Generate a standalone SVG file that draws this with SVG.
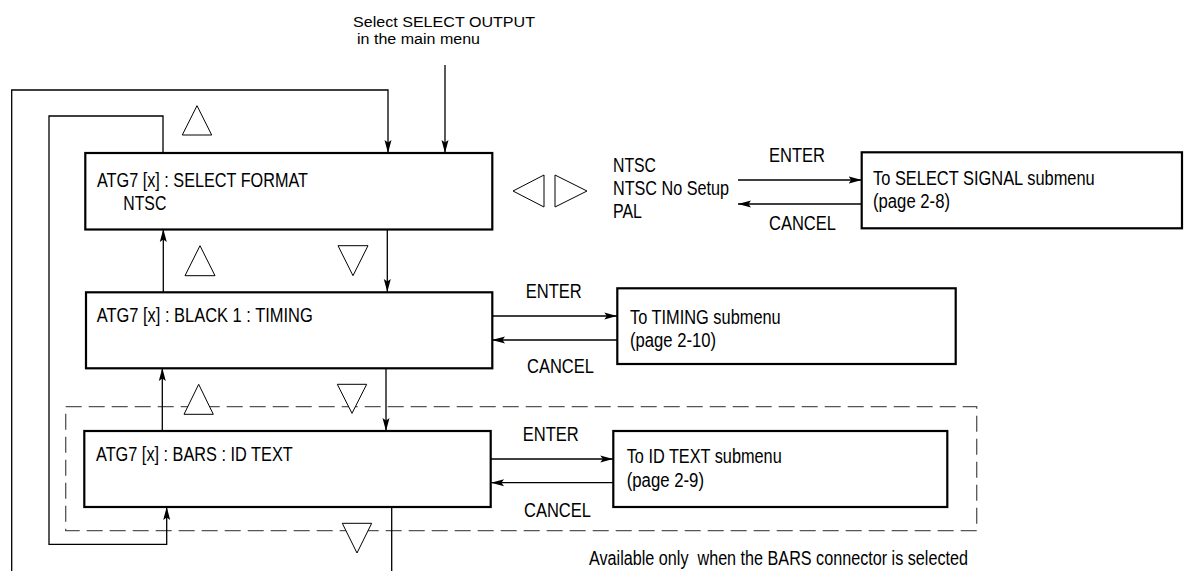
<svg xmlns="http://www.w3.org/2000/svg" width="1185" height="571" viewBox="0 0 1185 571">
<style>
text{font-family:"Liberation Sans",Arial,sans-serif;font-size:19.5px;fill:#000}
.hd{font-size:15.5px}
.box{fill:#fff;stroke:#000;stroke-width:2.2}
.c{fill:none;stroke:#000;stroke-width:1.3}
.tri{fill:#fff;stroke:#000;stroke-width:1}
.dash{fill:none;stroke:#555;stroke-width:1.3;stroke-dasharray:16 7}
</style>
<defs>
<marker id="ah" viewBox="0 0 13 8" refX="13" refY="4" markerWidth="13" markerHeight="8" orient="auto" markerUnits="userSpaceOnUse">
<path d="M0,0.5 L13,4 L0,7.5 L2.5,4 z" fill="#000"/>
</marker>
</defs>
<rect x="0" y="0" width="1185" height="571" fill="#fff"/>

<g id="bars-region">
<rect class="dash" x="65.7" y="406.7" width="911" height="124"/>
<text x="589" y="565" xml:space="preserve" textLength="379" lengthAdjust="spacingAndGlyphs">Available only  when the BARS connector is selected</text>
</g>

<g id="connectors">
<line class="c" x1="445" y1="65" x2="445" y2="153" marker-end="url(#ah)"/>
<polyline class="c" points="11.7,571 11.7,90 388,90 388,153" marker-end="url(#ah)"/>
<polyline class="c" points="163,153 163,116 49,116 49,544.3 166.7,544.3 166.7,507" marker-end="url(#ah)"/>
<line class="c" x1="387.3" y1="229" x2="387.3" y2="292" marker-end="url(#ah)"/>
<line class="c" x1="163.3" y1="292" x2="163.3" y2="229" marker-end="url(#ah)"/>
<line class="c" x1="386" y1="368" x2="386" y2="431" marker-end="url(#ah)"/>
<line class="c" x1="162.3" y1="431" x2="162.3" y2="368" marker-end="url(#ah)"/>
<line class="c" x1="391.7" y1="507" x2="391.7" y2="571"/>
<line class="c" x1="738" y1="180" x2="861.7" y2="180" marker-end="url(#ah)"/>
<line class="c" x1="861.7" y1="204" x2="738" y2="204" marker-end="url(#ah)"/>
<line class="c" x1="492" y1="316" x2="617.3" y2="316" marker-end="url(#ah)"/>
<line class="c" x1="617.3" y1="340" x2="492" y2="340" marker-end="url(#ah)"/>
<line class="c" x1="491" y1="459" x2="613.3" y2="459" marker-end="url(#ah)"/>
<line class="c" x1="613.3" y1="482.7" x2="491" y2="482.7" marker-end="url(#ah)"/>
<text x="769" y="162" textLength="56" lengthAdjust="spacingAndGlyphs">ENTER</text>
<text x="769" y="230" textLength="67" lengthAdjust="spacingAndGlyphs">CANCEL</text>
<text x="525.7" y="297.7" textLength="56" lengthAdjust="spacingAndGlyphs">ENTER</text>
<text x="527" y="373" textLength="67" lengthAdjust="spacingAndGlyphs">CANCEL</text>
<text x="522.7" y="441" textLength="56" lengthAdjust="spacingAndGlyphs">ENTER</text>
<text x="524" y="516.7" textLength="67" lengthAdjust="spacingAndGlyphs">CANCEL</text>
</g>

<g id="keys">
<polygon class="tri" points="182.3,135 197,105.7 211.7,135"/>
<polygon class="tri" points="513,191 544,175 544,207"/>
<polygon class="tri" points="555,175 555,207 587,191"/>
<polygon class="tri" points="185,275.7 200,245.7 215,275.7"/>
<polygon class="tri" points="338,245.7 368,245.7 353,275.7"/>
<polygon class="tri" points="184,414.3 198.7,384.3 213.3,414.3"/>
<polygon class="tri" points="337.3,384.3 366.7,384.3 352,413.3"/>
<polygon class="tri" points="342.3,523.3 371.7,523.3 357,553"/>
</g>

<g id="start">
<text class="hd" x="353" y="26.5" textLength="182" lengthAdjust="spacingAndGlyphs">Select SELECT OUTPUT</text>
<text class="hd" x="357" y="44.3" textLength="123" lengthAdjust="spacingAndGlyphs">in the main menu</text>
</g>

<g id="select-format">
<rect class="box" x="85.3" y="153" width="407" height="76.5"/>
<text x="97" y="187.3" textLength="211" lengthAdjust="spacingAndGlyphs">ATG7 [x] : SELECT FORMAT</text>
<text x="123.3" y="210" textLength="43" lengthAdjust="spacingAndGlyphs">NTSC</text>
</g>

<g id="format-options">
<text x="613" y="172" textLength="43" lengthAdjust="spacingAndGlyphs">NTSC</text>
<text x="613" y="195" textLength="116" lengthAdjust="spacingAndGlyphs">NTSC No Setup</text>
<text x="613" y="218.3" textLength="29" lengthAdjust="spacingAndGlyphs">PAL</text>
</g>

<g id="select-signal">
<rect class="box" x="861.7" y="152.3" width="320.3" height="76"/>
<text x="873" y="185" textLength="221.7" lengthAdjust="spacingAndGlyphs">To SELECT SIGNAL submenu</text>
<text x="873" y="208" textLength="77" lengthAdjust="spacingAndGlyphs">(page 2-8)</text>
</g>

<g id="black1-timing">
<rect class="box" x="86" y="292.3" width="406.3" height="76"/>
<text x="96.7" y="321.7" textLength="216" lengthAdjust="spacingAndGlyphs">ATG7 [x] : BLACK 1 : TIMING</text>
</g>

<g id="timing">
<rect class="box" x="617.3" y="288.3" width="338.4" height="75.7"/>
<text x="630" y="324" textLength="150.7" lengthAdjust="spacingAndGlyphs">To TIMING submenu</text>
<text x="630" y="346.7" textLength="86" lengthAdjust="spacingAndGlyphs">(page 2-10)</text>
</g>

<g id="bars-id-text">
<rect class="box" x="84.3" y="431" width="406.4" height="76"/>
<text x="96" y="460.7" textLength="196.7" lengthAdjust="spacingAndGlyphs">ATG7 [x] : BARS : ID TEXT</text>
</g>

<g id="id-text">
<rect class="box" x="613.3" y="431" width="334" height="76"/>
<text x="626.7" y="463.3" textLength="155" lengthAdjust="spacingAndGlyphs">To ID TEXT submenu</text>
<text x="626.7" y="486.7" textLength="77.3" lengthAdjust="spacingAndGlyphs">(page 2-9)</text>
</g>
</svg>
